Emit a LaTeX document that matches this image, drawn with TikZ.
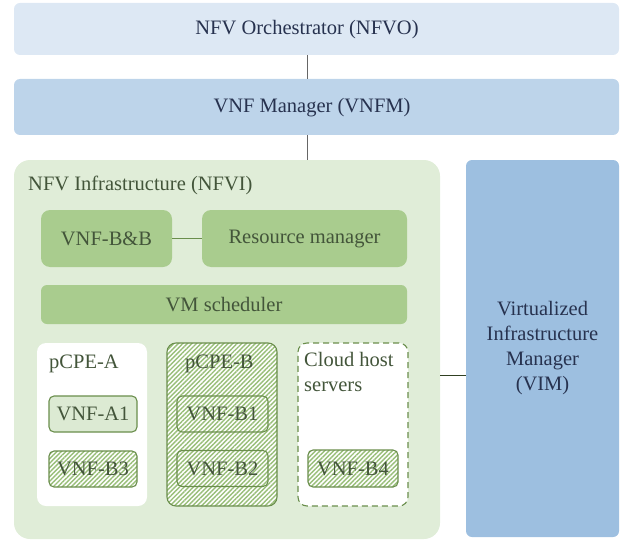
\documentclass[tikz,border=0pt]{standalone}
\usepackage{fontspec}
\setmainfont{Liberation Serif}
\usetikzlibrary{patterns.meta}
\definecolor{orchfill}{HTML}{DDE8F4}
\definecolor{mgrfill}{HTML}{BDD4EA}
\definecolor{vimfill}{HTML}{9DBFE0}
\definecolor{infrafill}{HTML}{E0EDD8}
\definecolor{greenbox}{HTML}{A9CC8E}
\definecolor{navytext}{HTML}{27324F}
\definecolor{greentext}{HTML}{43553A}
\definecolor{greenline}{HTML}{6A8E4C}
\definecolor{hatchcol}{HTML}{98BE78}
\definecolor{lightvnf}{HTML}{DCEAD3}
\tikzset{
  every node/.style={font=\fontsize{20.5}{25}\selectfont, inner sep=0pt},
  topbox/.style={rounded corners=6pt, draw=none, text=navytext},
  gbox/.style={rounded corners=9pt, fill=greenbox, text=greentext},
  hostbox/.style={rounded corners=9pt, text=greentext, minimum width=110pt, minimum height=163pt},
  hatched/.style={preaction={fill=white}, pattern={Lines[angle=45,distance=3.2pt,line width=1.4pt]}, pattern color=hatchcol},
  vnfbox/.style={rounded corners=5pt, draw=greenline, line width=1.1pt, text=greentext, minimum height=36pt},
  gtext/.style={text=greentext},
  ntext/.style={text=navytext},
  conn/.style={draw=black!60, line width=1pt},
  gconn/.style={draw=greenline, line width=1.1pt},
}
\begin{document}
\begin{tikzpicture}[x=1pt,y=-1pt]
\useasboundingbox (0,0) rectangle (620,540);
% top boxes
\node[topbox, fill=orchfill, minimum width=605pt, minimum height=52pt] (nfvo) at (316.5,29) {};
\node[ntext] (nfvotxt) at (307,30) {NFV Orchestrator (NFVO)};
\node[topbox, fill=mgrfill, minimum width=605pt, minimum height=56pt] (vnfm) at (316.5,107) {};
\node[ntext] (vnfmtxt) at (312,108) {VNF Manager (VNFM)};
% infrastructure
\node[rounded corners=16pt, fill=infrafill, minimum width=426pt, minimum height=379pt] (nfvi) at (227,349.5) {};
\node[gtext, anchor=west] (nfvitxt) at (28,185) {NFV Infrastructure (NFVI)};
\node[topbox, fill=vimfill, minimum width=153pt, minimum height=377pt, align=center, text=navytext] (vim) at (542.5,348.5) {Virtualized\\Infrastructure\\Manager\\(VIM)};
\coordinate (cx) at (307,0);
\draw[conn] (cx |- nfvo.south) -- (cx |- vnfm.north);
\draw[conn] (cx |- vnfm.south) -- (cx |- nfvi.north);
\coordinate (cy) at (0,375);
\draw[conn, draw=black!55!greenline] (nfvi.east |- cy) -- (vim.west |- cy);
% green boxes
\node[gbox, minimum width=131pt, minimum height=57pt] (bb) at (106.5,238.5) {VNF-B\&B};
\node[gbox, minimum width=205pt, minimum height=57pt] (rm) at (304.5,238.5) {Resource manager};
\draw[gconn] (bb.east) -- (rm.west);
\node[gbox, rounded corners=6pt, minimum width=366pt, minimum height=39pt] (vms) at (224,304.5) {VM scheduler};
% hosts
\node[hostbox, fill=white] (pcpea) at (92,424.5) {};
\node[gtext, anchor=west] (pcpeatxt) at (49,364) {pCPE-A};
\node[hostbox, hatched, draw=greenline, line width=1.1pt] (pcpeb) at (222,424.5) {};
\node[gtext, anchor=west] (pcpebtxt) at (185,364) {pCPE-B};
\node[hostbox, fill=white, draw=greenline, line width=1.1pt, dash pattern=on 6pt off 4pt] (cloud) at (353,424.5) {};
\node[gtext, anchor=north west, align=left] (cloudtxt) at (304,352) {Cloud host\\servers};
% vnfs
\node[vnfbox, fill=lightvnf, minimum width=88pt] (a1) at (93,414) {VNF-A1};
\node[vnfbox, hatched, minimum width=88pt] (b3) at (93,469) {VNF-B3};
\node[vnfbox, hatched, minimum width=91pt] (b1) at (222.5,414) {VNF-B1};
\node[vnfbox, hatched, minimum width=91pt] (b2) at (222.5,468.5) {VNF-B2};
\node[vnfbox, hatched, minimum width=90pt, minimum height=37pt] (b4) at (353,468.5) {VNF-B4};
\end{tikzpicture}
\end{document}
